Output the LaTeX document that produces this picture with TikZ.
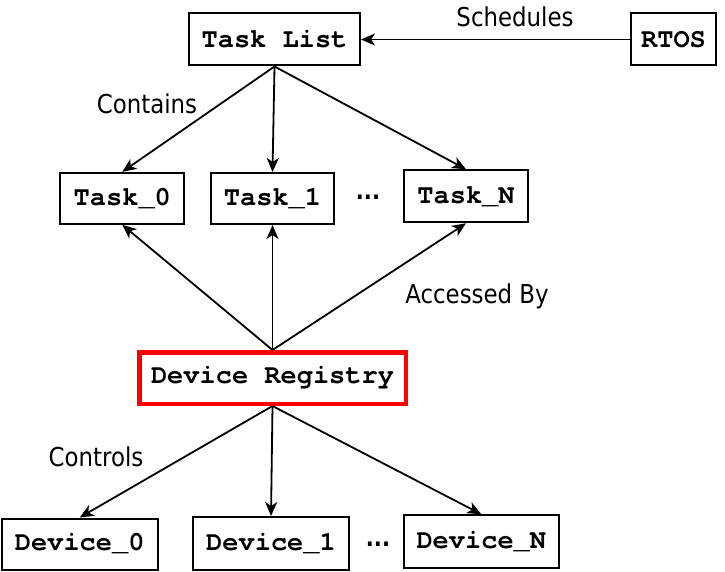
\documentclass[tikz,border=0pt]{standalone}
\usepackage{fontspec}
\setmainfont{DejaVu Sans}[FakeStretch=0.88]
\setmonofont{TeX Gyre Cursor}
\usetikzlibrary{arrows.meta}

\begin{document}
\begin{tikzpicture}[
    x=1pt, y=-1pt,
    % Common boxes
    bloco/.style={
        draw, line width=2pt, fill=white,
        font=\fontsize{27}{30}\selectfont\ttfamily\bfseries,
        minimum height=51pt, inner sep=0pt, align=center
    },
    % Highlighted box
    blocoreg/.style={
        bloco, draw=red, line width=4.5pt, minimum height=51.5pt
    },
    % Edge labels
    rotulo/.style={font=\fontsize{26}{30}\selectfont, inner sep=0pt},
    reticencias/.style={font=\fontsize{24}{28}\selectfont\bfseries, inner sep=0pt, anchor=base},
    seta/.style={draw, line width=1.8pt, -{Stealth[length=14pt, width=12pt, inset=4pt]}}
]
\useasboundingbox (0,0) rectangle (725,572);

% ---- LEVEL 0: SCHEDULER ----
\node[bloco, minimum width=171pt, minimum height=52pt] (tasklist) at (274.5, 39.5) {Task List};
\node[bloco, minimum width=85pt, minimum height=52pt]  (rtos)     at (673.5, 39.5) {RTOS};

\draw[seta] (rtos.west) -- (tasklist.east);
\node[rotulo] (l_sched) at (515, 17) {Schedules};

% ---- LEVEL 1: TASKS ----
\node[bloco, minimum width=124pt] (task0) at (122.3, 198.3) {Task\_0};
\node[bloco, minimum width=123pt] (task1) at (272.5, 198.5) {Task\_1};
\node[reticencias] (dots_t) at (368, 200) {...};
\node[bloco, minimum width=124pt, minimum height=52pt] (taskN) at (466, 196.3) {Task\_N};

\draw[seta] (tasklist.south) -- (task0.north);
\draw[seta] (tasklist.south) -- (task1.north);
\draw[seta] (tasklist.south) -- (taskN.north);
\node[rotulo] (l_cont) at (147, 104) {Contains};

% ---- LEVEL 2: REGISTRY ----
\node[blocoreg, minimum width=266.5pt] (devreg) at (272.5, 378) {Device Registry};

\draw[seta] (devreg.north) -- (task0.south);
\draw[seta] (devreg.north) -- (task1.south);
\draw[seta] (devreg.north) -- (taskN.south);
\node[rotulo] (l_acc) at (477, 296) {Accessed By};

% ---- LEVEL 3: DEVICES ----
\node[bloco, minimum width=156pt] (dev0) at (79.7, 544)  {Device\_0};
\node[bloco, minimum width=156pt, minimum height=53pt] (dev1) at (271, 543.5) {Device\_1};
\node[reticencias] (dots_d) at (378, 546) {...};
\node[bloco, minimum width=155pt, minimum height=53pt] (devN) at (481.3, 541.7) {Device\_N};

\draw[seta] (devreg.south) -- (dev0.north);
\draw[seta] (devreg.south) -- (dev1.north);
\draw[seta] (devreg.south) -- (devN.north);
\node[rotulo] (l_ctrl) at (96, 457) {Controls};

\end{tikzpicture}
\end{document}
